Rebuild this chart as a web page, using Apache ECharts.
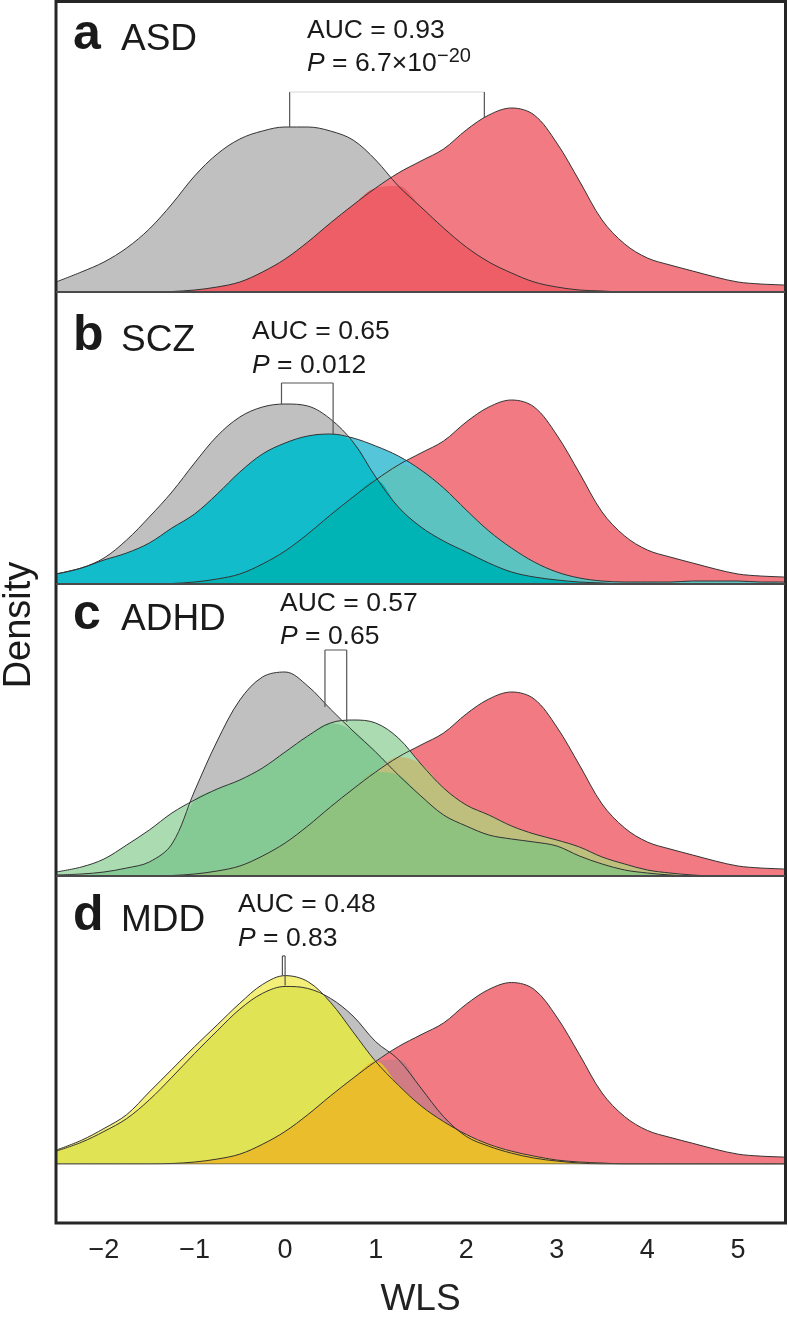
<!DOCTYPE html>
<html><head><meta charset="utf-8">
<script src="https://cdn.jsdelivr.net/npm/echarts@6/dist/echarts.min.js"></script>
<style>html,body{margin:0;padding:0;background:#fff}#c{width:788px;height:1319px}</style>
</head><body><div id="c"></div>
<script>
// ---- data (WLS grid and density estimates) ----
const wls = [-2.53,-2.25,-2,-1.75,-1.5,-1.25,-1,-0.75,-0.5,-0.25,0,0.25,0.5,0.75,1,1.25,1.5,1.75,2,2.25,2.5,2.75,3,3.25,3.5,3.75,4,4.25,4.5,4.75,5,5.25,5.52];
const asd   = [0,0,0,0,0,0.001,0.004,0.010,0.020,0.040,0.066,0.100,0.138,0.174,0.208,0.238,0.262,0.286,0.324,0.354,0.368,0.354,0.298,0.222,0.144,0.096,0.068,0.054,0.042,0.030,0.020,0.016,0.014];
const ctrlA = [0.020,0.040,0.060,0.088,0.126,0.176,0.232,0.276,0.306,0.322,0.330,0.330,0.322,0.304,0.264,0.212,0.170,0.128,0.090,0.060,0.038,0.020,0.010,0.004,0.002,0,0,0,0,0,0,0,0];
const ctrlB = [0.020,0.032,0.052,0.088,0.134,0.184,0.242,0.296,0.334,0.354,0.360,0.356,0.330,0.284,0.214,0.154,0.114,0.086,0.064,0.042,0.024,0.014,0.008,0.004,0.002,0,0,0,0,0,0,0,0];
const scz   = [0.020,0.032,0.048,0.062,0.082,0.112,0.140,0.180,0.224,0.260,0.282,0.296,0.300,0.292,0.276,0.256,0.228,0.192,0.148,0.106,0.072,0.044,0.024,0.012,0.006,0.004,0.004,0.004,0.006,0.006,0.006,0.004,0.004];
const ctrlC = [0.002,0.004,0.008,0.016,0.028,0.064,0.170,0.270,0.352,0.398,0.408,0.380,0.334,0.290,0.248,0.202,0.160,0.122,0.100,0.082,0.074,0.068,0.060,0.040,0.024,0.012,0.006,0.002,0,0,0,0,0];
const adhd  = [0.008,0.018,0.034,0.062,0.092,0.126,0.152,0.174,0.192,0.216,0.248,0.280,0.306,0.312,0.306,0.276,0.224,0.176,0.142,0.122,0.100,0.084,0.072,0.058,0.038,0.024,0.012,0.006,0.002,0,0,0,0];
const ctrlD = [0.026,0.044,0.066,0.092,0.130,0.176,0.224,0.270,0.314,0.346,0.360,0.356,0.336,0.300,0.248,0.212,0.154,0.096,0.056,0.036,0.022,0.012,0.006,0.002,0,0,0,0,0,0,0,0,0];
const mdd   = [0.028,0.048,0.072,0.100,0.146,0.192,0.238,0.282,0.326,0.364,0.382,0.370,0.328,0.268,0.208,0.160,0.118,0.086,0.060,0.040,0.026,0.016,0.008,0.004,0.002,0,0,0,0,0,0,0,0];

const panelLetters = ['a','b','c','d'];
const disorders = ['ASD','SCZ','ADHD','MDD'];
const aucValues = ['0.93','0.65','0.57','0.48'];
const pValues = ['6.7×10','0.012','0.65','0.83'];
const pExponent = ['−20','','',''];
// bracket: [x left, y bottom left, y top, x right, y bottom right]
const brackets = [
  [0.05, 0.330, 0.400, 2.20, 0.348],
  [-0.04, 0.360, 0.402, 0.53, 0.300],
  [0.44, 0.338, 0.452, 0.68, 0.308],
  [-0.03, 0.382, 0.422, 0.00, 0.362]
];
const xTicks = [-2,-1,0,1,2,3,4,5];

// ---- panel composition ----
const panels = [
  {keys:['G','R'], arrays:[ctrlA, asd],
   colors:{G:'#c0c0c0',R:'#f27a82',GR:'#ee5e66'}, hColor:'#d8d8d8'},
  {keys:['G','R','C'], arrays:[ctrlB, asd, scz],
   colors:{G:'#c0c0c0',R:'#f27a82',C:'#55c5d9',GR:'#ee5e66',GC:'#12bccb',RC:'#5cc3c1',GRC:'#00b4b6'}, hColor:'#555'},
  {keys:['G','R','N'], arrays:[ctrlC, asd, adhd],
   colors:{G:'#c0c0c0',R:'#f27a82',N:'#abdbb1',GR:'#ee5e66',GN:'#85c995',RN:'#bebf7d',GRN:'#8fc27e'}, hColor:'#555'},
  {keys:['G','R','Y'], arrays:[ctrlD, asd, mdd],
   colors:{G:'#c0c0c0',R:'#f27a82',Y:'#f4ef78',GR:'#d17c84',GY:'#e0e354',RY:'#f7b842',GRY:'#e9bd2b'}, hColor:'#555'}
];

const tops = [0, 292, 584, 876];
const FONT = 'Liberation Sans, Arial, Helvetica, sans-serif';

function subsets(n){
  const res=[];
  for(let m=1;m<(1<<n);m++){const idx=[];for(let i=0;i<n;i++) if(m&(1<<i)) idx.push(i); res.push(idx);}
  res.sort((a,b)=>a.length-b.length);
  return res;
}
function pairs(vals){ return wls.map((x,i)=>[x, vals[i]]); }

const grid=[], xAxis=[], yAxis=[], series=[];
panels.forEach((p, k)=>{
  grid.push({left:56, right:3, top:tops[k], height:292});
  const last = k===3;
  xAxis.push({type:'value', gridIndex:k, min:-2.53, max:5.52, splitNumber:8, show:last,
    offset: last ? 55 : 0,
    axisLine:{show:false, onZero:false}, axisTick:{show:false}, splitLine:{show:false},
    axisLabel:{show:last, margin:18, fontSize:27, color:'#222', fontFamily:FONT,
      showMinLabel:false, showMaxLabel:false,
      formatter:v=> xTicks.includes(v) ? String(v).replace('-','−') : ''},
    name: last?'WLS':'', nameLocation:'middle', nameGap:62,
    nameTextStyle:{fontSize:37, color:'#222', fontFamily:FONT}});
  yAxis.push({type:'value', gridIndex:k, min:0, max:0.584, show:false});
  // fills
  subsets(p.keys.length).forEach(idx=>{
    const key = idx.map(i=>p.keys[i]).join('');
    const vals = wls.map((_,j)=>Math.min(...idx.map(i=>p.arrays[i][j])));
    series.push({type:'line', xAxisIndex:k, yAxisIndex:k, data:pairs(vals), smooth:0.35,
      showSymbol:false, silent:true, lineStyle:{width:0, opacity:0},
      areaStyle:{color:p.colors[key], opacity:1}});
  });
  // outlines
  p.arrays.forEach(arr=>{
    series.push({type:'line', xAxisIndex:k, yAxisIndex:k, data:pairs(arr), smooth:0.35,
      showSymbol:false, silent:true, lineStyle:{width:1, color:'#333'}});
  });
  // baseline of the last panel
  if(last) series.push({type:'line', xAxisIndex:k, yAxisIndex:k, showSymbol:false, silent:true,
    data:[[wls[0],0],[wls[wls.length-1],0]], lineStyle:{width:1.2, color:'#5a5a4a'}});
  // bracket
  const b = brackets[k];
  const seg=(d,c)=>series.push({type:'line', xAxisIndex:k, yAxisIndex:k, data:d, showSymbol:false,
    silent:true, lineStyle:{width:1.2, color:c}});
  seg([[b[0],b[1]],[b[0],b[2]]], '#555');
  seg([[b[0],b[2]],[b[3],b[2]]], p.hColor);
  seg([[b[3],b[2]],[b[3],b[4]]], '#555');
});

// ---- text & frame ----
const labelPos = [
  {lx:73, ly:35.5, dx:121, dy:40, ax:307, ay:31, py:64},
  {lx:73, ly:336.5, dx:121, dy:341, ax:252, ay:332, py:365.5},
  {lx:73, ly:615.5, dx:121, dy:620, ax:280, ay:604, py:637},
  {lx:73, ly:916.5, dx:121, dy:921, ax:238, ay:905, py:938.5}
];
const graphic = [];
graphic.push({type:'rect', z:100, shape:{x:56, y:1.5, width:729.5, height:1221.5},
  style:{fill:null, stroke:'#262626', lineWidth:3}});
[292, 584, 876].forEach(y=>graphic.push({type:'line', z:100,
  shape:{x1:56, y1:y, x2:785, y2:y}, style:{stroke:'#4a4a4a', lineWidth:2}}));
labelPos.forEach((L,k)=>{
  graphic.push({type:'text', z:101, x:L.lx, y:L.ly, style:{text:panelLetters[k], fontSize:50, fontWeight:'bold',
    fontFamily:FONT, fill:'#1a1a1a', align:'left', verticalAlign:'middle'}});
  graphic.push({type:'text', z:101, x:L.dx, y:L.dy, style:{text:disorders[k], fontSize:37,
    fontFamily:FONT, fill:'#1a1a1a', align:'left', verticalAlign:'middle'}});
  graphic.push({type:'text', z:101, x:L.ax, y:L.ay, style:{text:'AUC = '+aucValues[k], fontSize:26.5,
    fontFamily:FONT, fill:'#1a1a1a', align:'left', verticalAlign:'middle'}});
  graphic.push({type:'text', z:101, x:L.ax, y:L.py, style:{text:'{i|P} = '+pValues[k], fontSize:26.5,
    fontFamily:FONT, fill:'#1a1a1a', align:'left', verticalAlign:'middle',
    rich:{i:{fontStyle:'italic', fontSize:26.5, fontFamily:FONT, fill:'#1a1a1a'}}}});
  if(pExponent[k]) graphic.push({type:'text', z:101, x:L.ax+130, y:L.py-8, style:{text:pExponent[k], fontSize:20,
    fontFamily:FONT, fill:'#1a1a1a', align:'left', verticalAlign:'middle'}});
});
graphic.push({type:'text', z:101, x:20, y:625, rotation:Math.PI/2, style:{text:'Density', fontSize:38,
  fontFamily:FONT, fill:'#1a1a1a', align:'center', verticalAlign:'middle'}});

const chart = echarts.init(document.getElementById('c'), null, {renderer:'canvas'});
chart.setOption({animation:false, backgroundColor:'#fff', grid, xAxis, yAxis, series, graphic});
</script></body></html>
